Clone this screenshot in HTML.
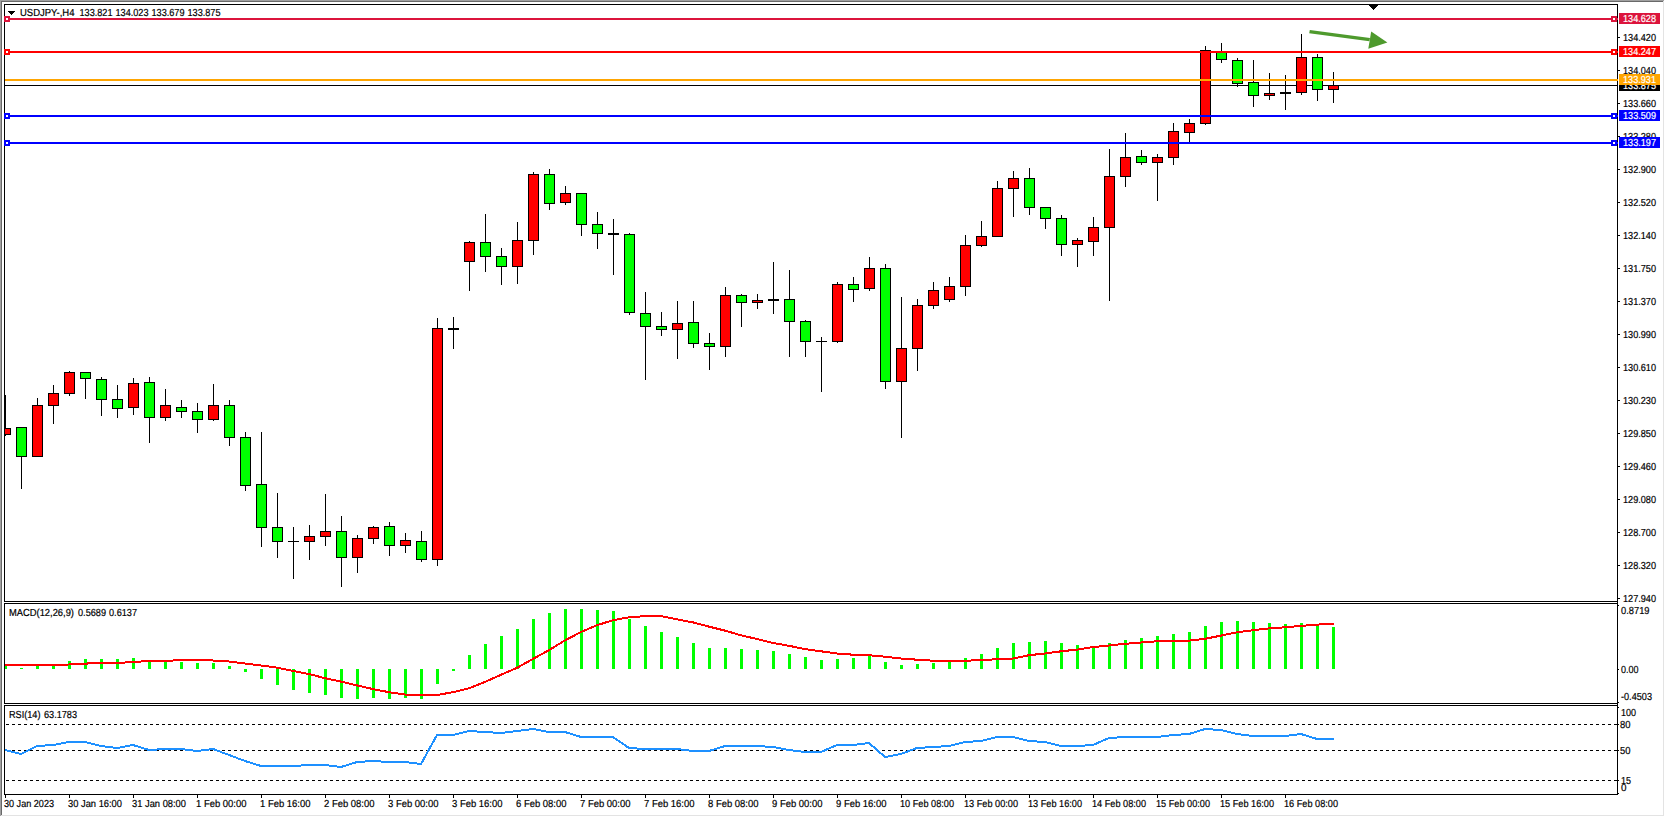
<!DOCTYPE html>
<html lang="en"><head><meta charset="utf-8"><title>USDJPY-,H4</title>
<style>html,body{margin:0;padding:0;background:#fff;overflow:hidden}svg{display:block}text{font-family:"Liberation Sans",sans-serif;font-size:10.2px;fill:#000;stroke:#000;stroke-width:0.2px;text-rendering:geometricPrecision}</style>
</head><body>
<svg width="1665" height="817" viewBox="0 0 1665 817">
<rect x="0" y="0" width="1665" height="817" fill="#fff"/>
<g shape-rendering="crispEdges">
<rect x="0" y="0" width="1665" height="1" fill="#a0a0a0"/>
<rect x="0" y="0" width="1" height="817" fill="#a0a0a0"/>
<rect x="1" y="1" width="1663" height="1" fill="#696969"/>
<rect x="1" y="1" width="1" height="815" fill="#696969"/>
<rect x="1" y="815" width="1663" height="1" fill="#e3e3e3"/>
<rect x="1663" y="1" width="1" height="815" fill="#e3e3e3"/>
<rect x="0" y="816" width="1665" height="1" fill="#fff"/>
<rect x="1664" y="0" width="1" height="817" fill="#fff"/>
<rect x="4" y="4" width="1614" height="1" fill="#000"/>
<rect x="4" y="601" width="1614" height="1" fill="#000"/>
<rect x="4" y="4" width="1" height="598" fill="#000"/>
<rect x="4" y="603" width="1614" height="1" fill="#000"/>
<rect x="4" y="703" width="1614" height="1" fill="#000"/>
<rect x="4" y="603" width="1" height="101" fill="#000"/>
<rect x="4" y="705" width="1614" height="1" fill="#000"/>
<rect x="4" y="794" width="1614" height="1" fill="#000"/>
<rect x="4" y="705" width="1" height="90" fill="#000"/>
<rect x="1617" y="4" width="1" height="791" fill="#000"/>
<rect x="5" y="85" width="1612" height="1" fill="#000"/>
<g id="candles">
<rect x="5" y="395" width="1" height="41" fill="#000"/>
<rect x="5" y="428" width="6" height="7" fill="#000"/>
<rect x="5" y="429" width="5" height="5" fill="#ff0000"/>
<rect x="21" y="427" width="1" height="62" fill="#000"/>
<rect x="16" y="427" width="11" height="30" fill="#000"/>
<rect x="17" y="428" width="9" height="28" fill="#00ff00"/>
<rect x="37" y="398" width="1" height="59" fill="#000"/>
<rect x="32" y="405" width="11" height="52" fill="#000"/>
<rect x="33" y="406" width="9" height="50" fill="#ff0000"/>
<rect x="53" y="385" width="1" height="39" fill="#000"/>
<rect x="48" y="393" width="11" height="13" fill="#000"/>
<rect x="49" y="394" width="9" height="11" fill="#ff0000"/>
<rect x="69" y="371" width="1" height="25" fill="#000"/>
<rect x="64" y="372" width="11" height="22" fill="#000"/>
<rect x="65" y="373" width="9" height="20" fill="#ff0000"/>
<rect x="85" y="372" width="1" height="27" fill="#000"/>
<rect x="80" y="372" width="11" height="7" fill="#000"/>
<rect x="81" y="373" width="9" height="5" fill="#00ff00"/>
<rect x="101" y="377" width="1" height="39" fill="#000"/>
<rect x="96" y="379" width="11" height="21" fill="#000"/>
<rect x="97" y="380" width="9" height="19" fill="#00ff00"/>
<rect x="117" y="385" width="1" height="33" fill="#000"/>
<rect x="112" y="399" width="11" height="10" fill="#000"/>
<rect x="113" y="400" width="9" height="8" fill="#00ff00"/>
<rect x="133" y="378" width="1" height="37" fill="#000"/>
<rect x="128" y="383" width="11" height="25" fill="#000"/>
<rect x="129" y="384" width="9" height="23" fill="#ff0000"/>
<rect x="149" y="377" width="1" height="66" fill="#000"/>
<rect x="144" y="382" width="11" height="36" fill="#000"/>
<rect x="145" y="383" width="9" height="34" fill="#00ff00"/>
<rect x="165" y="389" width="1" height="32" fill="#000"/>
<rect x="160" y="405" width="11" height="13" fill="#000"/>
<rect x="161" y="406" width="9" height="11" fill="#ff0000"/>
<rect x="181" y="400" width="1" height="18" fill="#000"/>
<rect x="176" y="407" width="11" height="5" fill="#000"/>
<rect x="177" y="408" width="9" height="3" fill="#00ff00"/>
<rect x="197" y="403" width="1" height="30" fill="#000"/>
<rect x="192" y="411" width="11" height="9" fill="#000"/>
<rect x="193" y="412" width="9" height="7" fill="#00ff00"/>
<rect x="213" y="384" width="1" height="37" fill="#000"/>
<rect x="208" y="405" width="11" height="15" fill="#000"/>
<rect x="209" y="406" width="9" height="13" fill="#ff0000"/>
<rect x="229" y="400" width="1" height="46" fill="#000"/>
<rect x="224" y="405" width="11" height="33" fill="#000"/>
<rect x="225" y="406" width="9" height="31" fill="#00ff00"/>
<rect x="245" y="432" width="1" height="59" fill="#000"/>
<rect x="240" y="437" width="11" height="49" fill="#000"/>
<rect x="241" y="438" width="9" height="47" fill="#00ff00"/>
<rect x="261" y="432" width="1" height="115" fill="#000"/>
<rect x="256" y="484" width="11" height="44" fill="#000"/>
<rect x="257" y="485" width="9" height="42" fill="#00ff00"/>
<rect x="277" y="493" width="1" height="65" fill="#000"/>
<rect x="272" y="527" width="11" height="15" fill="#000"/>
<rect x="273" y="528" width="9" height="13" fill="#00ff00"/>
<rect x="293" y="527" width="1" height="52" fill="#000"/>
<rect x="288" y="541" width="11" height="1" fill="#000"/>
<rect x="309" y="525" width="1" height="35" fill="#000"/>
<rect x="304" y="536" width="11" height="6" fill="#000"/>
<rect x="305" y="537" width="9" height="4" fill="#ff0000"/>
<rect x="325" y="494" width="1" height="52" fill="#000"/>
<rect x="320" y="531" width="11" height="6" fill="#000"/>
<rect x="321" y="532" width="9" height="4" fill="#ff0000"/>
<rect x="341" y="516" width="1" height="71" fill="#000"/>
<rect x="336" y="531" width="11" height="27" fill="#000"/>
<rect x="337" y="532" width="9" height="25" fill="#00ff00"/>
<rect x="357" y="535" width="1" height="38" fill="#000"/>
<rect x="352" y="538" width="11" height="20" fill="#000"/>
<rect x="353" y="539" width="9" height="18" fill="#ff0000"/>
<rect x="373" y="526" width="1" height="18" fill="#000"/>
<rect x="368" y="527" width="11" height="12" fill="#000"/>
<rect x="369" y="528" width="9" height="10" fill="#ff0000"/>
<rect x="389" y="522" width="1" height="34" fill="#000"/>
<rect x="384" y="526" width="11" height="20" fill="#000"/>
<rect x="385" y="527" width="9" height="18" fill="#00ff00"/>
<rect x="405" y="533" width="1" height="20" fill="#000"/>
<rect x="400" y="540" width="11" height="6" fill="#000"/>
<rect x="401" y="541" width="9" height="4" fill="#ff0000"/>
<rect x="421" y="531" width="1" height="31" fill="#000"/>
<rect x="416" y="541" width="11" height="19" fill="#000"/>
<rect x="417" y="542" width="9" height="17" fill="#00ff00"/>
<rect x="437" y="318" width="1" height="248" fill="#000"/>
<rect x="432" y="328" width="11" height="232" fill="#000"/>
<rect x="433" y="329" width="9" height="230" fill="#ff0000"/>
<rect x="453" y="317" width="1" height="32" fill="#000"/>
<rect x="448" y="328" width="11" height="2" fill="#000"/>
<rect x="469" y="241" width="1" height="50" fill="#000"/>
<rect x="464" y="242" width="11" height="20" fill="#000"/>
<rect x="465" y="243" width="9" height="18" fill="#ff0000"/>
<rect x="485" y="214" width="1" height="58" fill="#000"/>
<rect x="480" y="242" width="11" height="15" fill="#000"/>
<rect x="481" y="243" width="9" height="13" fill="#00ff00"/>
<rect x="501" y="248" width="1" height="37" fill="#000"/>
<rect x="496" y="256" width="11" height="11" fill="#000"/>
<rect x="497" y="257" width="9" height="9" fill="#00ff00"/>
<rect x="517" y="222" width="1" height="62" fill="#000"/>
<rect x="512" y="240" width="11" height="27" fill="#000"/>
<rect x="513" y="241" width="9" height="25" fill="#ff0000"/>
<rect x="533" y="172" width="1" height="83" fill="#000"/>
<rect x="528" y="174" width="11" height="67" fill="#000"/>
<rect x="529" y="175" width="9" height="65" fill="#ff0000"/>
<rect x="549" y="169" width="1" height="41" fill="#000"/>
<rect x="544" y="174" width="11" height="30" fill="#000"/>
<rect x="545" y="175" width="9" height="28" fill="#00ff00"/>
<rect x="565" y="186" width="1" height="19" fill="#000"/>
<rect x="560" y="193" width="11" height="10" fill="#000"/>
<rect x="561" y="194" width="9" height="8" fill="#ff0000"/>
<rect x="581" y="193" width="1" height="43" fill="#000"/>
<rect x="576" y="193" width="11" height="32" fill="#000"/>
<rect x="577" y="194" width="9" height="30" fill="#00ff00"/>
<rect x="597" y="212" width="1" height="37" fill="#000"/>
<rect x="592" y="224" width="11" height="10" fill="#000"/>
<rect x="593" y="225" width="9" height="8" fill="#00ff00"/>
<rect x="613" y="219" width="1" height="56" fill="#000"/>
<rect x="608" y="233" width="11" height="2" fill="#000"/>
<rect x="629" y="233" width="1" height="82" fill="#000"/>
<rect x="624" y="234" width="11" height="79" fill="#000"/>
<rect x="625" y="235" width="9" height="77" fill="#00ff00"/>
<rect x="645" y="292" width="1" height="88" fill="#000"/>
<rect x="640" y="313" width="11" height="14" fill="#000"/>
<rect x="641" y="314" width="9" height="12" fill="#00ff00"/>
<rect x="661" y="312" width="1" height="24" fill="#000"/>
<rect x="656" y="326" width="11" height="4" fill="#000"/>
<rect x="657" y="327" width="9" height="2" fill="#00ff00"/>
<rect x="677" y="301" width="1" height="58" fill="#000"/>
<rect x="672" y="323" width="11" height="7" fill="#000"/>
<rect x="673" y="324" width="9" height="5" fill="#ff0000"/>
<rect x="693" y="301" width="1" height="47" fill="#000"/>
<rect x="688" y="322" width="11" height="22" fill="#000"/>
<rect x="689" y="323" width="9" height="20" fill="#00ff00"/>
<rect x="709" y="333" width="1" height="37" fill="#000"/>
<rect x="704" y="343" width="11" height="4" fill="#000"/>
<rect x="705" y="344" width="9" height="2" fill="#00ff00"/>
<rect x="725" y="287" width="1" height="70" fill="#000"/>
<rect x="720" y="295" width="11" height="52" fill="#000"/>
<rect x="721" y="296" width="9" height="50" fill="#ff0000"/>
<rect x="741" y="294" width="1" height="33" fill="#000"/>
<rect x="736" y="295" width="11" height="8" fill="#000"/>
<rect x="737" y="296" width="9" height="6" fill="#00ff00"/>
<rect x="757" y="294" width="1" height="15" fill="#000"/>
<rect x="752" y="300" width="11" height="3" fill="#000"/>
<rect x="753" y="301" width="9" height="1" fill="#ff0000"/>
<rect x="773" y="262" width="1" height="52" fill="#000"/>
<rect x="768" y="299" width="11" height="2" fill="#000"/>
<rect x="789" y="270" width="1" height="87" fill="#000"/>
<rect x="784" y="299" width="11" height="23" fill="#000"/>
<rect x="785" y="300" width="9" height="21" fill="#00ff00"/>
<rect x="805" y="320" width="1" height="37" fill="#000"/>
<rect x="800" y="321" width="11" height="21" fill="#000"/>
<rect x="801" y="322" width="9" height="19" fill="#00ff00"/>
<rect x="821" y="337" width="1" height="55" fill="#000"/>
<rect x="816" y="341" width="11" height="1" fill="#000"/>
<rect x="837" y="282" width="1" height="61" fill="#000"/>
<rect x="832" y="284" width="11" height="58" fill="#000"/>
<rect x="833" y="285" width="9" height="56" fill="#ff0000"/>
<rect x="853" y="277" width="1" height="25" fill="#000"/>
<rect x="848" y="284" width="11" height="6" fill="#000"/>
<rect x="849" y="285" width="9" height="4" fill="#00ff00"/>
<rect x="869" y="257" width="1" height="34" fill="#000"/>
<rect x="864" y="268" width="11" height="21" fill="#000"/>
<rect x="865" y="269" width="9" height="19" fill="#ff0000"/>
<rect x="885" y="264" width="1" height="125" fill="#000"/>
<rect x="880" y="268" width="11" height="114" fill="#000"/>
<rect x="881" y="269" width="9" height="112" fill="#00ff00"/>
<rect x="901" y="297" width="1" height="141" fill="#000"/>
<rect x="896" y="348" width="11" height="34" fill="#000"/>
<rect x="897" y="349" width="9" height="32" fill="#ff0000"/>
<rect x="917" y="299" width="1" height="72" fill="#000"/>
<rect x="912" y="305" width="11" height="44" fill="#000"/>
<rect x="913" y="306" width="9" height="42" fill="#ff0000"/>
<rect x="933" y="282" width="1" height="27" fill="#000"/>
<rect x="928" y="290" width="11" height="16" fill="#000"/>
<rect x="929" y="291" width="9" height="14" fill="#ff0000"/>
<rect x="949" y="277" width="1" height="25" fill="#000"/>
<rect x="944" y="286" width="11" height="14" fill="#000"/>
<rect x="945" y="287" width="9" height="12" fill="#ff0000"/>
<rect x="965" y="235" width="1" height="61" fill="#000"/>
<rect x="960" y="245" width="11" height="42" fill="#000"/>
<rect x="961" y="246" width="9" height="40" fill="#ff0000"/>
<rect x="981" y="221" width="1" height="26" fill="#000"/>
<rect x="976" y="236" width="11" height="10" fill="#000"/>
<rect x="977" y="237" width="9" height="8" fill="#ff0000"/>
<rect x="997" y="181" width="1" height="56" fill="#000"/>
<rect x="992" y="188" width="11" height="49" fill="#000"/>
<rect x="993" y="189" width="9" height="47" fill="#ff0000"/>
<rect x="1013" y="171" width="1" height="46" fill="#000"/>
<rect x="1008" y="178" width="11" height="11" fill="#000"/>
<rect x="1009" y="179" width="9" height="9" fill="#ff0000"/>
<rect x="1029" y="168" width="1" height="47" fill="#000"/>
<rect x="1024" y="178" width="11" height="30" fill="#000"/>
<rect x="1025" y="179" width="9" height="28" fill="#00ff00"/>
<rect x="1045" y="207" width="1" height="22" fill="#000"/>
<rect x="1040" y="207" width="11" height="12" fill="#000"/>
<rect x="1041" y="208" width="9" height="10" fill="#00ff00"/>
<rect x="1061" y="215" width="1" height="41" fill="#000"/>
<rect x="1056" y="218" width="11" height="27" fill="#000"/>
<rect x="1057" y="219" width="9" height="25" fill="#00ff00"/>
<rect x="1077" y="238" width="1" height="29" fill="#000"/>
<rect x="1072" y="240" width="11" height="5" fill="#000"/>
<rect x="1073" y="241" width="9" height="3" fill="#ff0000"/>
<rect x="1093" y="217" width="1" height="39" fill="#000"/>
<rect x="1088" y="227" width="11" height="15" fill="#000"/>
<rect x="1089" y="228" width="9" height="13" fill="#ff0000"/>
<rect x="1109" y="149" width="1" height="152" fill="#000"/>
<rect x="1104" y="176" width="11" height="52" fill="#000"/>
<rect x="1105" y="177" width="9" height="50" fill="#ff0000"/>
<rect x="1125" y="133" width="1" height="54" fill="#000"/>
<rect x="1120" y="157" width="11" height="20" fill="#000"/>
<rect x="1121" y="158" width="9" height="18" fill="#ff0000"/>
<rect x="1141" y="150" width="1" height="15" fill="#000"/>
<rect x="1136" y="156" width="11" height="7" fill="#000"/>
<rect x="1137" y="157" width="9" height="5" fill="#00ff00"/>
<rect x="1157" y="154" width="1" height="47" fill="#000"/>
<rect x="1152" y="157" width="11" height="6" fill="#000"/>
<rect x="1153" y="158" width="9" height="4" fill="#ff0000"/>
<rect x="1173" y="123" width="1" height="42" fill="#000"/>
<rect x="1168" y="131" width="11" height="27" fill="#000"/>
<rect x="1169" y="132" width="9" height="25" fill="#ff0000"/>
<rect x="1189" y="119" width="1" height="23" fill="#000"/>
<rect x="1184" y="123" width="11" height="10" fill="#000"/>
<rect x="1185" y="124" width="9" height="8" fill="#ff0000"/>
<rect x="1205" y="46" width="1" height="79" fill="#000"/>
<rect x="1200" y="50" width="11" height="74" fill="#000"/>
<rect x="1201" y="51" width="9" height="72" fill="#ff0000"/>
<rect x="1221" y="43" width="1" height="20" fill="#000"/>
<rect x="1216" y="52" width="11" height="8" fill="#000"/>
<rect x="1217" y="53" width="9" height="6" fill="#00ff00"/>
<rect x="1237" y="58" width="1" height="29" fill="#000"/>
<rect x="1232" y="60" width="11" height="24" fill="#000"/>
<rect x="1233" y="61" width="9" height="22" fill="#00ff00"/>
<rect x="1253" y="60" width="1" height="47" fill="#000"/>
<rect x="1248" y="82" width="11" height="14" fill="#000"/>
<rect x="1249" y="83" width="9" height="12" fill="#00ff00"/>
<rect x="1269" y="73" width="1" height="27" fill="#000"/>
<rect x="1264" y="93" width="11" height="3" fill="#000"/>
<rect x="1265" y="94" width="9" height="1" fill="#ff0000"/>
<rect x="1285" y="75" width="1" height="35" fill="#000"/>
<rect x="1280" y="92" width="11" height="2" fill="#000"/>
<rect x="1301" y="34" width="1" height="61" fill="#000"/>
<rect x="1296" y="57" width="11" height="36" fill="#000"/>
<rect x="1297" y="58" width="9" height="34" fill="#ff0000"/>
<rect x="1317" y="54" width="1" height="47" fill="#000"/>
<rect x="1312" y="57" width="11" height="33" fill="#000"/>
<rect x="1313" y="58" width="9" height="31" fill="#00ff00"/>
<rect x="1333" y="72" width="1" height="31" fill="#000"/>
<rect x="1328" y="85" width="11" height="5" fill="#000"/>
<rect x="1329" y="86" width="9" height="3" fill="#ff0000"/>
</g>
<rect x="5" y="18" width="1613" height="2" fill="#dc143c"/>
<rect x="5" y="51" width="1613" height="2" fill="#ff0000"/>
<rect x="5" y="79" width="1613" height="2" fill="#ffa500"/>
<rect x="5" y="115" width="1613" height="2" fill="#0000ff"/>
<rect x="5" y="142" width="1613" height="2" fill="#0000ff"/>
<rect x="4" y="16" width="6" height="6" fill="#dc143c"/>
<rect x="6" y="18" width="2" height="2" fill="#fff"/>
<rect x="1611" y="16" width="6" height="6" fill="#dc143c"/>
<rect x="1613" y="18" width="2" height="2" fill="#fff"/>
<rect x="4" y="49" width="6" height="6" fill="#ff0000"/>
<rect x="6" y="51" width="2" height="2" fill="#fff"/>
<rect x="1611" y="49" width="6" height="6" fill="#ff0000"/>
<rect x="1613" y="51" width="2" height="2" fill="#fff"/>
<rect x="4" y="113" width="6" height="6" fill="#0000ff"/>
<rect x="6" y="115" width="2" height="2" fill="#fff"/>
<rect x="1611" y="113" width="6" height="6" fill="#0000ff"/>
<rect x="1613" y="115" width="2" height="2" fill="#fff"/>
<rect x="4" y="140" width="6" height="6" fill="#0000ff"/>
<rect x="6" y="142" width="2" height="2" fill="#fff"/>
<rect x="1611" y="140" width="6" height="6" fill="#0000ff"/>
<rect x="1613" y="142" width="2" height="2" fill="#fff"/>
<rect x="1369" y="5" width="9" height="1" fill="#000"/>
<rect x="1370" y="6" width="7" height="1" fill="#000"/>
<rect x="1371" y="7" width="5" height="1" fill="#000"/>
<rect x="1372" y="8" width="3" height="1" fill="#000"/>
<rect x="1373" y="9" width="1" height="1" fill="#000"/>
<rect x="8" y="11" width="7" height="1" fill="#000"/>
<rect x="9" y="12" width="5" height="1" fill="#000"/>
<rect x="10" y="13" width="3" height="1" fill="#000"/>
<rect x="11" y="14" width="1" height="1" fill="#000"/>
<g id="macd">
<rect x="5" y="665" width="2" height="4" fill="#00ff00"/>
<rect x="20" y="668" width="3" height="1" fill="#00ff00"/>
<rect x="36" y="665" width="3" height="4" fill="#00ff00"/>
<rect x="52" y="665" width="3" height="4" fill="#00ff00"/>
<rect x="68" y="661" width="3" height="8" fill="#00ff00"/>
<rect x="84" y="659" width="3" height="10" fill="#00ff00"/>
<rect x="100" y="659" width="3" height="10" fill="#00ff00"/>
<rect x="116" y="659" width="3" height="10" fill="#00ff00"/>
<rect x="132" y="658" width="3" height="11" fill="#00ff00"/>
<rect x="148" y="660" width="3" height="9" fill="#00ff00"/>
<rect x="164" y="661" width="3" height="8" fill="#00ff00"/>
<rect x="180" y="662" width="3" height="7" fill="#00ff00"/>
<rect x="196" y="663" width="3" height="6" fill="#00ff00"/>
<rect x="212" y="663" width="3" height="6" fill="#00ff00"/>
<rect x="228" y="666" width="3" height="3" fill="#00ff00"/>
<rect x="244" y="669" width="3" height="3" fill="#00ff00"/>
<rect x="260" y="669" width="3" height="10" fill="#00ff00"/>
<rect x="276" y="669" width="3" height="16" fill="#00ff00"/>
<rect x="292" y="669" width="3" height="21" fill="#00ff00"/>
<rect x="308" y="669" width="3" height="24" fill="#00ff00"/>
<rect x="324" y="669" width="3" height="26" fill="#00ff00"/>
<rect x="340" y="669" width="3" height="29" fill="#00ff00"/>
<rect x="356" y="669" width="3" height="30" fill="#00ff00"/>
<rect x="372" y="669" width="3" height="29" fill="#00ff00"/>
<rect x="388" y="669" width="3" height="30" fill="#00ff00"/>
<rect x="404" y="669" width="3" height="29" fill="#00ff00"/>
<rect x="420" y="669" width="3" height="30" fill="#00ff00"/>
<rect x="436" y="669" width="3" height="15" fill="#00ff00"/>
<rect x="452" y="669" width="3" height="2" fill="#00ff00"/>
<rect x="468" y="655" width="3" height="14" fill="#00ff00"/>
<rect x="484" y="644" width="3" height="25" fill="#00ff00"/>
<rect x="500" y="636" width="3" height="33" fill="#00ff00"/>
<rect x="516" y="629" width="3" height="40" fill="#00ff00"/>
<rect x="532" y="619" width="3" height="50" fill="#00ff00"/>
<rect x="548" y="613" width="3" height="56" fill="#00ff00"/>
<rect x="564" y="609" width="3" height="60" fill="#00ff00"/>
<rect x="580" y="609" width="3" height="60" fill="#00ff00"/>
<rect x="596" y="610" width="3" height="59" fill="#00ff00"/>
<rect x="612" y="611" width="3" height="58" fill="#00ff00"/>
<rect x="628" y="619" width="3" height="50" fill="#00ff00"/>
<rect x="644" y="626" width="3" height="43" fill="#00ff00"/>
<rect x="660" y="632" width="3" height="37" fill="#00ff00"/>
<rect x="676" y="637" width="3" height="32" fill="#00ff00"/>
<rect x="692" y="643" width="3" height="26" fill="#00ff00"/>
<rect x="708" y="648" width="3" height="21" fill="#00ff00"/>
<rect x="724" y="648" width="3" height="21" fill="#00ff00"/>
<rect x="740" y="649" width="3" height="20" fill="#00ff00"/>
<rect x="756" y="650" width="3" height="19" fill="#00ff00"/>
<rect x="772" y="651" width="3" height="18" fill="#00ff00"/>
<rect x="788" y="654" width="3" height="15" fill="#00ff00"/>
<rect x="804" y="657" width="3" height="12" fill="#00ff00"/>
<rect x="820" y="660" width="3" height="9" fill="#00ff00"/>
<rect x="836" y="659" width="3" height="10" fill="#00ff00"/>
<rect x="852" y="658" width="3" height="11" fill="#00ff00"/>
<rect x="868" y="656" width="3" height="13" fill="#00ff00"/>
<rect x="884" y="662" width="3" height="7" fill="#00ff00"/>
<rect x="900" y="665" width="3" height="4" fill="#00ff00"/>
<rect x="916" y="664" width="3" height="5" fill="#00ff00"/>
<rect x="932" y="663" width="3" height="6" fill="#00ff00"/>
<rect x="948" y="661" width="3" height="8" fill="#00ff00"/>
<rect x="964" y="658" width="3" height="11" fill="#00ff00"/>
<rect x="980" y="654" width="3" height="15" fill="#00ff00"/>
<rect x="996" y="648" width="3" height="21" fill="#00ff00"/>
<rect x="1012" y="643" width="3" height="26" fill="#00ff00"/>
<rect x="1028" y="642" width="3" height="27" fill="#00ff00"/>
<rect x="1044" y="641" width="3" height="28" fill="#00ff00"/>
<rect x="1060" y="643" width="3" height="26" fill="#00ff00"/>
<rect x="1076" y="645" width="3" height="24" fill="#00ff00"/>
<rect x="1092" y="647" width="3" height="22" fill="#00ff00"/>
<rect x="1108" y="643" width="3" height="26" fill="#00ff00"/>
<rect x="1124" y="640" width="3" height="29" fill="#00ff00"/>
<rect x="1140" y="638" width="3" height="31" fill="#00ff00"/>
<rect x="1156" y="636" width="3" height="33" fill="#00ff00"/>
<rect x="1172" y="634" width="3" height="35" fill="#00ff00"/>
<rect x="1188" y="632" width="3" height="37" fill="#00ff00"/>
<rect x="1204" y="626" width="3" height="43" fill="#00ff00"/>
<rect x="1220" y="622" width="3" height="47" fill="#00ff00"/>
<rect x="1236" y="621" width="3" height="48" fill="#00ff00"/>
<rect x="1252" y="622" width="3" height="47" fill="#00ff00"/>
<rect x="1268" y="623" width="3" height="46" fill="#00ff00"/>
<rect x="1284" y="624" width="3" height="45" fill="#00ff00"/>
<rect x="1300" y="623" width="3" height="46" fill="#00ff00"/>
<rect x="1316" y="625" width="3" height="44" fill="#00ff00"/>
<rect x="1332" y="627" width="3" height="42" fill="#00ff00"/>
</g>
<rect x="6" y="724" width="3" height="1" fill="#000"/>
<rect x="12" y="724" width="3" height="1" fill="#000"/>
<rect x="18" y="724" width="3" height="1" fill="#000"/>
<rect x="24" y="724" width="3" height="1" fill="#000"/>
<rect x="30" y="724" width="3" height="1" fill="#000"/>
<rect x="36" y="724" width="3" height="1" fill="#000"/>
<rect x="42" y="724" width="3" height="1" fill="#000"/>
<rect x="48" y="724" width="3" height="1" fill="#000"/>
<rect x="54" y="724" width="3" height="1" fill="#000"/>
<rect x="60" y="724" width="3" height="1" fill="#000"/>
<rect x="66" y="724" width="3" height="1" fill="#000"/>
<rect x="72" y="724" width="3" height="1" fill="#000"/>
<rect x="78" y="724" width="3" height="1" fill="#000"/>
<rect x="84" y="724" width="3" height="1" fill="#000"/>
<rect x="90" y="724" width="3" height="1" fill="#000"/>
<rect x="96" y="724" width="3" height="1" fill="#000"/>
<rect x="102" y="724" width="3" height="1" fill="#000"/>
<rect x="108" y="724" width="3" height="1" fill="#000"/>
<rect x="114" y="724" width="3" height="1" fill="#000"/>
<rect x="120" y="724" width="3" height="1" fill="#000"/>
<rect x="126" y="724" width="3" height="1" fill="#000"/>
<rect x="132" y="724" width="3" height="1" fill="#000"/>
<rect x="138" y="724" width="3" height="1" fill="#000"/>
<rect x="144" y="724" width="3" height="1" fill="#000"/>
<rect x="150" y="724" width="3" height="1" fill="#000"/>
<rect x="156" y="724" width="3" height="1" fill="#000"/>
<rect x="162" y="724" width="3" height="1" fill="#000"/>
<rect x="168" y="724" width="3" height="1" fill="#000"/>
<rect x="174" y="724" width="3" height="1" fill="#000"/>
<rect x="180" y="724" width="3" height="1" fill="#000"/>
<rect x="186" y="724" width="3" height="1" fill="#000"/>
<rect x="192" y="724" width="3" height="1" fill="#000"/>
<rect x="198" y="724" width="3" height="1" fill="#000"/>
<rect x="204" y="724" width="3" height="1" fill="#000"/>
<rect x="210" y="724" width="3" height="1" fill="#000"/>
<rect x="216" y="724" width="3" height="1" fill="#000"/>
<rect x="222" y="724" width="3" height="1" fill="#000"/>
<rect x="228" y="724" width="3" height="1" fill="#000"/>
<rect x="234" y="724" width="3" height="1" fill="#000"/>
<rect x="240" y="724" width="3" height="1" fill="#000"/>
<rect x="246" y="724" width="3" height="1" fill="#000"/>
<rect x="252" y="724" width="3" height="1" fill="#000"/>
<rect x="258" y="724" width="3" height="1" fill="#000"/>
<rect x="264" y="724" width="3" height="1" fill="#000"/>
<rect x="270" y="724" width="3" height="1" fill="#000"/>
<rect x="276" y="724" width="3" height="1" fill="#000"/>
<rect x="282" y="724" width="3" height="1" fill="#000"/>
<rect x="288" y="724" width="3" height="1" fill="#000"/>
<rect x="294" y="724" width="3" height="1" fill="#000"/>
<rect x="300" y="724" width="3" height="1" fill="#000"/>
<rect x="306" y="724" width="3" height="1" fill="#000"/>
<rect x="312" y="724" width="3" height="1" fill="#000"/>
<rect x="318" y="724" width="3" height="1" fill="#000"/>
<rect x="324" y="724" width="3" height="1" fill="#000"/>
<rect x="330" y="724" width="3" height="1" fill="#000"/>
<rect x="336" y="724" width="3" height="1" fill="#000"/>
<rect x="342" y="724" width="3" height="1" fill="#000"/>
<rect x="348" y="724" width="3" height="1" fill="#000"/>
<rect x="354" y="724" width="3" height="1" fill="#000"/>
<rect x="360" y="724" width="3" height="1" fill="#000"/>
<rect x="366" y="724" width="3" height="1" fill="#000"/>
<rect x="372" y="724" width="3" height="1" fill="#000"/>
<rect x="378" y="724" width="3" height="1" fill="#000"/>
<rect x="384" y="724" width="3" height="1" fill="#000"/>
<rect x="390" y="724" width="3" height="1" fill="#000"/>
<rect x="396" y="724" width="3" height="1" fill="#000"/>
<rect x="402" y="724" width="3" height="1" fill="#000"/>
<rect x="408" y="724" width="3" height="1" fill="#000"/>
<rect x="414" y="724" width="3" height="1" fill="#000"/>
<rect x="420" y="724" width="3" height="1" fill="#000"/>
<rect x="426" y="724" width="3" height="1" fill="#000"/>
<rect x="432" y="724" width="3" height="1" fill="#000"/>
<rect x="438" y="724" width="3" height="1" fill="#000"/>
<rect x="444" y="724" width="3" height="1" fill="#000"/>
<rect x="450" y="724" width="3" height="1" fill="#000"/>
<rect x="456" y="724" width="3" height="1" fill="#000"/>
<rect x="462" y="724" width="3" height="1" fill="#000"/>
<rect x="468" y="724" width="3" height="1" fill="#000"/>
<rect x="474" y="724" width="3" height="1" fill="#000"/>
<rect x="480" y="724" width="3" height="1" fill="#000"/>
<rect x="486" y="724" width="3" height="1" fill="#000"/>
<rect x="492" y="724" width="3" height="1" fill="#000"/>
<rect x="498" y="724" width="3" height="1" fill="#000"/>
<rect x="504" y="724" width="3" height="1" fill="#000"/>
<rect x="510" y="724" width="3" height="1" fill="#000"/>
<rect x="516" y="724" width="3" height="1" fill="#000"/>
<rect x="522" y="724" width="3" height="1" fill="#000"/>
<rect x="528" y="724" width="3" height="1" fill="#000"/>
<rect x="534" y="724" width="3" height="1" fill="#000"/>
<rect x="540" y="724" width="3" height="1" fill="#000"/>
<rect x="546" y="724" width="3" height="1" fill="#000"/>
<rect x="552" y="724" width="3" height="1" fill="#000"/>
<rect x="558" y="724" width="3" height="1" fill="#000"/>
<rect x="564" y="724" width="3" height="1" fill="#000"/>
<rect x="570" y="724" width="3" height="1" fill="#000"/>
<rect x="576" y="724" width="3" height="1" fill="#000"/>
<rect x="582" y="724" width="3" height="1" fill="#000"/>
<rect x="588" y="724" width="3" height="1" fill="#000"/>
<rect x="594" y="724" width="3" height="1" fill="#000"/>
<rect x="600" y="724" width="3" height="1" fill="#000"/>
<rect x="606" y="724" width="3" height="1" fill="#000"/>
<rect x="612" y="724" width="3" height="1" fill="#000"/>
<rect x="618" y="724" width="3" height="1" fill="#000"/>
<rect x="624" y="724" width="3" height="1" fill="#000"/>
<rect x="630" y="724" width="3" height="1" fill="#000"/>
<rect x="636" y="724" width="3" height="1" fill="#000"/>
<rect x="642" y="724" width="3" height="1" fill="#000"/>
<rect x="648" y="724" width="3" height="1" fill="#000"/>
<rect x="654" y="724" width="3" height="1" fill="#000"/>
<rect x="660" y="724" width="3" height="1" fill="#000"/>
<rect x="666" y="724" width="3" height="1" fill="#000"/>
<rect x="672" y="724" width="3" height="1" fill="#000"/>
<rect x="678" y="724" width="3" height="1" fill="#000"/>
<rect x="684" y="724" width="3" height="1" fill="#000"/>
<rect x="690" y="724" width="3" height="1" fill="#000"/>
<rect x="696" y="724" width="3" height="1" fill="#000"/>
<rect x="702" y="724" width="3" height="1" fill="#000"/>
<rect x="708" y="724" width="3" height="1" fill="#000"/>
<rect x="714" y="724" width="3" height="1" fill="#000"/>
<rect x="720" y="724" width="3" height="1" fill="#000"/>
<rect x="726" y="724" width="3" height="1" fill="#000"/>
<rect x="732" y="724" width="3" height="1" fill="#000"/>
<rect x="738" y="724" width="3" height="1" fill="#000"/>
<rect x="744" y="724" width="3" height="1" fill="#000"/>
<rect x="750" y="724" width="3" height="1" fill="#000"/>
<rect x="756" y="724" width="3" height="1" fill="#000"/>
<rect x="762" y="724" width="3" height="1" fill="#000"/>
<rect x="768" y="724" width="3" height="1" fill="#000"/>
<rect x="774" y="724" width="3" height="1" fill="#000"/>
<rect x="780" y="724" width="3" height="1" fill="#000"/>
<rect x="786" y="724" width="3" height="1" fill="#000"/>
<rect x="792" y="724" width="3" height="1" fill="#000"/>
<rect x="798" y="724" width="3" height="1" fill="#000"/>
<rect x="804" y="724" width="3" height="1" fill="#000"/>
<rect x="810" y="724" width="3" height="1" fill="#000"/>
<rect x="816" y="724" width="3" height="1" fill="#000"/>
<rect x="822" y="724" width="3" height="1" fill="#000"/>
<rect x="828" y="724" width="3" height="1" fill="#000"/>
<rect x="834" y="724" width="3" height="1" fill="#000"/>
<rect x="840" y="724" width="3" height="1" fill="#000"/>
<rect x="846" y="724" width="3" height="1" fill="#000"/>
<rect x="852" y="724" width="3" height="1" fill="#000"/>
<rect x="858" y="724" width="3" height="1" fill="#000"/>
<rect x="864" y="724" width="3" height="1" fill="#000"/>
<rect x="870" y="724" width="3" height="1" fill="#000"/>
<rect x="876" y="724" width="3" height="1" fill="#000"/>
<rect x="882" y="724" width="3" height="1" fill="#000"/>
<rect x="888" y="724" width="3" height="1" fill="#000"/>
<rect x="894" y="724" width="3" height="1" fill="#000"/>
<rect x="900" y="724" width="3" height="1" fill="#000"/>
<rect x="906" y="724" width="3" height="1" fill="#000"/>
<rect x="912" y="724" width="3" height="1" fill="#000"/>
<rect x="918" y="724" width="3" height="1" fill="#000"/>
<rect x="924" y="724" width="3" height="1" fill="#000"/>
<rect x="930" y="724" width="3" height="1" fill="#000"/>
<rect x="936" y="724" width="3" height="1" fill="#000"/>
<rect x="942" y="724" width="3" height="1" fill="#000"/>
<rect x="948" y="724" width="3" height="1" fill="#000"/>
<rect x="954" y="724" width="3" height="1" fill="#000"/>
<rect x="960" y="724" width="3" height="1" fill="#000"/>
<rect x="966" y="724" width="3" height="1" fill="#000"/>
<rect x="972" y="724" width="3" height="1" fill="#000"/>
<rect x="978" y="724" width="3" height="1" fill="#000"/>
<rect x="984" y="724" width="3" height="1" fill="#000"/>
<rect x="990" y="724" width="3" height="1" fill="#000"/>
<rect x="996" y="724" width="3" height="1" fill="#000"/>
<rect x="1002" y="724" width="3" height="1" fill="#000"/>
<rect x="1008" y="724" width="3" height="1" fill="#000"/>
<rect x="1014" y="724" width="3" height="1" fill="#000"/>
<rect x="1020" y="724" width="3" height="1" fill="#000"/>
<rect x="1026" y="724" width="3" height="1" fill="#000"/>
<rect x="1032" y="724" width="3" height="1" fill="#000"/>
<rect x="1038" y="724" width="3" height="1" fill="#000"/>
<rect x="1044" y="724" width="3" height="1" fill="#000"/>
<rect x="1050" y="724" width="3" height="1" fill="#000"/>
<rect x="1056" y="724" width="3" height="1" fill="#000"/>
<rect x="1062" y="724" width="3" height="1" fill="#000"/>
<rect x="1068" y="724" width="3" height="1" fill="#000"/>
<rect x="1074" y="724" width="3" height="1" fill="#000"/>
<rect x="1080" y="724" width="3" height="1" fill="#000"/>
<rect x="1086" y="724" width="3" height="1" fill="#000"/>
<rect x="1092" y="724" width="3" height="1" fill="#000"/>
<rect x="1098" y="724" width="3" height="1" fill="#000"/>
<rect x="1104" y="724" width="3" height="1" fill="#000"/>
<rect x="1110" y="724" width="3" height="1" fill="#000"/>
<rect x="1116" y="724" width="3" height="1" fill="#000"/>
<rect x="1122" y="724" width="3" height="1" fill="#000"/>
<rect x="1128" y="724" width="3" height="1" fill="#000"/>
<rect x="1134" y="724" width="3" height="1" fill="#000"/>
<rect x="1140" y="724" width="3" height="1" fill="#000"/>
<rect x="1146" y="724" width="3" height="1" fill="#000"/>
<rect x="1152" y="724" width="3" height="1" fill="#000"/>
<rect x="1158" y="724" width="3" height="1" fill="#000"/>
<rect x="1164" y="724" width="3" height="1" fill="#000"/>
<rect x="1170" y="724" width="3" height="1" fill="#000"/>
<rect x="1176" y="724" width="3" height="1" fill="#000"/>
<rect x="1182" y="724" width="3" height="1" fill="#000"/>
<rect x="1188" y="724" width="3" height="1" fill="#000"/>
<rect x="1194" y="724" width="3" height="1" fill="#000"/>
<rect x="1200" y="724" width="3" height="1" fill="#000"/>
<rect x="1206" y="724" width="3" height="1" fill="#000"/>
<rect x="1212" y="724" width="3" height="1" fill="#000"/>
<rect x="1218" y="724" width="3" height="1" fill="#000"/>
<rect x="1224" y="724" width="3" height="1" fill="#000"/>
<rect x="1230" y="724" width="3" height="1" fill="#000"/>
<rect x="1236" y="724" width="3" height="1" fill="#000"/>
<rect x="1242" y="724" width="3" height="1" fill="#000"/>
<rect x="1248" y="724" width="3" height="1" fill="#000"/>
<rect x="1254" y="724" width="3" height="1" fill="#000"/>
<rect x="1260" y="724" width="3" height="1" fill="#000"/>
<rect x="1266" y="724" width="3" height="1" fill="#000"/>
<rect x="1272" y="724" width="3" height="1" fill="#000"/>
<rect x="1278" y="724" width="3" height="1" fill="#000"/>
<rect x="1284" y="724" width="3" height="1" fill="#000"/>
<rect x="1290" y="724" width="3" height="1" fill="#000"/>
<rect x="1296" y="724" width="3" height="1" fill="#000"/>
<rect x="1302" y="724" width="3" height="1" fill="#000"/>
<rect x="1308" y="724" width="3" height="1" fill="#000"/>
<rect x="1314" y="724" width="3" height="1" fill="#000"/>
<rect x="1320" y="724" width="3" height="1" fill="#000"/>
<rect x="1326" y="724" width="3" height="1" fill="#000"/>
<rect x="1332" y="724" width="3" height="1" fill="#000"/>
<rect x="1338" y="724" width="3" height="1" fill="#000"/>
<rect x="1344" y="724" width="3" height="1" fill="#000"/>
<rect x="1350" y="724" width="3" height="1" fill="#000"/>
<rect x="1356" y="724" width="3" height="1" fill="#000"/>
<rect x="1362" y="724" width="3" height="1" fill="#000"/>
<rect x="1368" y="724" width="3" height="1" fill="#000"/>
<rect x="1374" y="724" width="3" height="1" fill="#000"/>
<rect x="1380" y="724" width="3" height="1" fill="#000"/>
<rect x="1386" y="724" width="3" height="1" fill="#000"/>
<rect x="1392" y="724" width="3" height="1" fill="#000"/>
<rect x="1398" y="724" width="3" height="1" fill="#000"/>
<rect x="1404" y="724" width="3" height="1" fill="#000"/>
<rect x="1410" y="724" width="3" height="1" fill="#000"/>
<rect x="1416" y="724" width="3" height="1" fill="#000"/>
<rect x="1422" y="724" width="3" height="1" fill="#000"/>
<rect x="1428" y="724" width="3" height="1" fill="#000"/>
<rect x="1434" y="724" width="3" height="1" fill="#000"/>
<rect x="1440" y="724" width="3" height="1" fill="#000"/>
<rect x="1446" y="724" width="3" height="1" fill="#000"/>
<rect x="1452" y="724" width="3" height="1" fill="#000"/>
<rect x="1458" y="724" width="3" height="1" fill="#000"/>
<rect x="1464" y="724" width="3" height="1" fill="#000"/>
<rect x="1470" y="724" width="3" height="1" fill="#000"/>
<rect x="1476" y="724" width="3" height="1" fill="#000"/>
<rect x="1482" y="724" width="3" height="1" fill="#000"/>
<rect x="1488" y="724" width="3" height="1" fill="#000"/>
<rect x="1494" y="724" width="3" height="1" fill="#000"/>
<rect x="1500" y="724" width="3" height="1" fill="#000"/>
<rect x="1506" y="724" width="3" height="1" fill="#000"/>
<rect x="1512" y="724" width="3" height="1" fill="#000"/>
<rect x="1518" y="724" width="3" height="1" fill="#000"/>
<rect x="1524" y="724" width="3" height="1" fill="#000"/>
<rect x="1530" y="724" width="3" height="1" fill="#000"/>
<rect x="1536" y="724" width="3" height="1" fill="#000"/>
<rect x="1542" y="724" width="3" height="1" fill="#000"/>
<rect x="1548" y="724" width="3" height="1" fill="#000"/>
<rect x="1554" y="724" width="3" height="1" fill="#000"/>
<rect x="1560" y="724" width="3" height="1" fill="#000"/>
<rect x="1566" y="724" width="3" height="1" fill="#000"/>
<rect x="1572" y="724" width="3" height="1" fill="#000"/>
<rect x="1578" y="724" width="3" height="1" fill="#000"/>
<rect x="1584" y="724" width="3" height="1" fill="#000"/>
<rect x="1590" y="724" width="3" height="1" fill="#000"/>
<rect x="1596" y="724" width="3" height="1" fill="#000"/>
<rect x="1602" y="724" width="3" height="1" fill="#000"/>
<rect x="1608" y="724" width="3" height="1" fill="#000"/>
<rect x="1614" y="724" width="3" height="1" fill="#000"/>
<rect x="6" y="750" width="3" height="1" fill="#000"/>
<rect x="12" y="750" width="3" height="1" fill="#000"/>
<rect x="18" y="750" width="3" height="1" fill="#000"/>
<rect x="24" y="750" width="3" height="1" fill="#000"/>
<rect x="30" y="750" width="3" height="1" fill="#000"/>
<rect x="36" y="750" width="3" height="1" fill="#000"/>
<rect x="42" y="750" width="3" height="1" fill="#000"/>
<rect x="48" y="750" width="3" height="1" fill="#000"/>
<rect x="54" y="750" width="3" height="1" fill="#000"/>
<rect x="60" y="750" width="3" height="1" fill="#000"/>
<rect x="66" y="750" width="3" height="1" fill="#000"/>
<rect x="72" y="750" width="3" height="1" fill="#000"/>
<rect x="78" y="750" width="3" height="1" fill="#000"/>
<rect x="84" y="750" width="3" height="1" fill="#000"/>
<rect x="90" y="750" width="3" height="1" fill="#000"/>
<rect x="96" y="750" width="3" height="1" fill="#000"/>
<rect x="102" y="750" width="3" height="1" fill="#000"/>
<rect x="108" y="750" width="3" height="1" fill="#000"/>
<rect x="114" y="750" width="3" height="1" fill="#000"/>
<rect x="120" y="750" width="3" height="1" fill="#000"/>
<rect x="126" y="750" width="3" height="1" fill="#000"/>
<rect x="132" y="750" width="3" height="1" fill="#000"/>
<rect x="138" y="750" width="3" height="1" fill="#000"/>
<rect x="144" y="750" width="3" height="1" fill="#000"/>
<rect x="150" y="750" width="3" height="1" fill="#000"/>
<rect x="156" y="750" width="3" height="1" fill="#000"/>
<rect x="162" y="750" width="3" height="1" fill="#000"/>
<rect x="168" y="750" width="3" height="1" fill="#000"/>
<rect x="174" y="750" width="3" height="1" fill="#000"/>
<rect x="180" y="750" width="3" height="1" fill="#000"/>
<rect x="186" y="750" width="3" height="1" fill="#000"/>
<rect x="192" y="750" width="3" height="1" fill="#000"/>
<rect x="198" y="750" width="3" height="1" fill="#000"/>
<rect x="204" y="750" width="3" height="1" fill="#000"/>
<rect x="210" y="750" width="3" height="1" fill="#000"/>
<rect x="216" y="750" width="3" height="1" fill="#000"/>
<rect x="222" y="750" width="3" height="1" fill="#000"/>
<rect x="228" y="750" width="3" height="1" fill="#000"/>
<rect x="234" y="750" width="3" height="1" fill="#000"/>
<rect x="240" y="750" width="3" height="1" fill="#000"/>
<rect x="246" y="750" width="3" height="1" fill="#000"/>
<rect x="252" y="750" width="3" height="1" fill="#000"/>
<rect x="258" y="750" width="3" height="1" fill="#000"/>
<rect x="264" y="750" width="3" height="1" fill="#000"/>
<rect x="270" y="750" width="3" height="1" fill="#000"/>
<rect x="276" y="750" width="3" height="1" fill="#000"/>
<rect x="282" y="750" width="3" height="1" fill="#000"/>
<rect x="288" y="750" width="3" height="1" fill="#000"/>
<rect x="294" y="750" width="3" height="1" fill="#000"/>
<rect x="300" y="750" width="3" height="1" fill="#000"/>
<rect x="306" y="750" width="3" height="1" fill="#000"/>
<rect x="312" y="750" width="3" height="1" fill="#000"/>
<rect x="318" y="750" width="3" height="1" fill="#000"/>
<rect x="324" y="750" width="3" height="1" fill="#000"/>
<rect x="330" y="750" width="3" height="1" fill="#000"/>
<rect x="336" y="750" width="3" height="1" fill="#000"/>
<rect x="342" y="750" width="3" height="1" fill="#000"/>
<rect x="348" y="750" width="3" height="1" fill="#000"/>
<rect x="354" y="750" width="3" height="1" fill="#000"/>
<rect x="360" y="750" width="3" height="1" fill="#000"/>
<rect x="366" y="750" width="3" height="1" fill="#000"/>
<rect x="372" y="750" width="3" height="1" fill="#000"/>
<rect x="378" y="750" width="3" height="1" fill="#000"/>
<rect x="384" y="750" width="3" height="1" fill="#000"/>
<rect x="390" y="750" width="3" height="1" fill="#000"/>
<rect x="396" y="750" width="3" height="1" fill="#000"/>
<rect x="402" y="750" width="3" height="1" fill="#000"/>
<rect x="408" y="750" width="3" height="1" fill="#000"/>
<rect x="414" y="750" width="3" height="1" fill="#000"/>
<rect x="420" y="750" width="3" height="1" fill="#000"/>
<rect x="426" y="750" width="3" height="1" fill="#000"/>
<rect x="432" y="750" width="3" height="1" fill="#000"/>
<rect x="438" y="750" width="3" height="1" fill="#000"/>
<rect x="444" y="750" width="3" height="1" fill="#000"/>
<rect x="450" y="750" width="3" height="1" fill="#000"/>
<rect x="456" y="750" width="3" height="1" fill="#000"/>
<rect x="462" y="750" width="3" height="1" fill="#000"/>
<rect x="468" y="750" width="3" height="1" fill="#000"/>
<rect x="474" y="750" width="3" height="1" fill="#000"/>
<rect x="480" y="750" width="3" height="1" fill="#000"/>
<rect x="486" y="750" width="3" height="1" fill="#000"/>
<rect x="492" y="750" width="3" height="1" fill="#000"/>
<rect x="498" y="750" width="3" height="1" fill="#000"/>
<rect x="504" y="750" width="3" height="1" fill="#000"/>
<rect x="510" y="750" width="3" height="1" fill="#000"/>
<rect x="516" y="750" width="3" height="1" fill="#000"/>
<rect x="522" y="750" width="3" height="1" fill="#000"/>
<rect x="528" y="750" width="3" height="1" fill="#000"/>
<rect x="534" y="750" width="3" height="1" fill="#000"/>
<rect x="540" y="750" width="3" height="1" fill="#000"/>
<rect x="546" y="750" width="3" height="1" fill="#000"/>
<rect x="552" y="750" width="3" height="1" fill="#000"/>
<rect x="558" y="750" width="3" height="1" fill="#000"/>
<rect x="564" y="750" width="3" height="1" fill="#000"/>
<rect x="570" y="750" width="3" height="1" fill="#000"/>
<rect x="576" y="750" width="3" height="1" fill="#000"/>
<rect x="582" y="750" width="3" height="1" fill="#000"/>
<rect x="588" y="750" width="3" height="1" fill="#000"/>
<rect x="594" y="750" width="3" height="1" fill="#000"/>
<rect x="600" y="750" width="3" height="1" fill="#000"/>
<rect x="606" y="750" width="3" height="1" fill="#000"/>
<rect x="612" y="750" width="3" height="1" fill="#000"/>
<rect x="618" y="750" width="3" height="1" fill="#000"/>
<rect x="624" y="750" width="3" height="1" fill="#000"/>
<rect x="630" y="750" width="3" height="1" fill="#000"/>
<rect x="636" y="750" width="3" height="1" fill="#000"/>
<rect x="642" y="750" width="3" height="1" fill="#000"/>
<rect x="648" y="750" width="3" height="1" fill="#000"/>
<rect x="654" y="750" width="3" height="1" fill="#000"/>
<rect x="660" y="750" width="3" height="1" fill="#000"/>
<rect x="666" y="750" width="3" height="1" fill="#000"/>
<rect x="672" y="750" width="3" height="1" fill="#000"/>
<rect x="678" y="750" width="3" height="1" fill="#000"/>
<rect x="684" y="750" width="3" height="1" fill="#000"/>
<rect x="690" y="750" width="3" height="1" fill="#000"/>
<rect x="696" y="750" width="3" height="1" fill="#000"/>
<rect x="702" y="750" width="3" height="1" fill="#000"/>
<rect x="708" y="750" width="3" height="1" fill="#000"/>
<rect x="714" y="750" width="3" height="1" fill="#000"/>
<rect x="720" y="750" width="3" height="1" fill="#000"/>
<rect x="726" y="750" width="3" height="1" fill="#000"/>
<rect x="732" y="750" width="3" height="1" fill="#000"/>
<rect x="738" y="750" width="3" height="1" fill="#000"/>
<rect x="744" y="750" width="3" height="1" fill="#000"/>
<rect x="750" y="750" width="3" height="1" fill="#000"/>
<rect x="756" y="750" width="3" height="1" fill="#000"/>
<rect x="762" y="750" width="3" height="1" fill="#000"/>
<rect x="768" y="750" width="3" height="1" fill="#000"/>
<rect x="774" y="750" width="3" height="1" fill="#000"/>
<rect x="780" y="750" width="3" height="1" fill="#000"/>
<rect x="786" y="750" width="3" height="1" fill="#000"/>
<rect x="792" y="750" width="3" height="1" fill="#000"/>
<rect x="798" y="750" width="3" height="1" fill="#000"/>
<rect x="804" y="750" width="3" height="1" fill="#000"/>
<rect x="810" y="750" width="3" height="1" fill="#000"/>
<rect x="816" y="750" width="3" height="1" fill="#000"/>
<rect x="822" y="750" width="3" height="1" fill="#000"/>
<rect x="828" y="750" width="3" height="1" fill="#000"/>
<rect x="834" y="750" width="3" height="1" fill="#000"/>
<rect x="840" y="750" width="3" height="1" fill="#000"/>
<rect x="846" y="750" width="3" height="1" fill="#000"/>
<rect x="852" y="750" width="3" height="1" fill="#000"/>
<rect x="858" y="750" width="3" height="1" fill="#000"/>
<rect x="864" y="750" width="3" height="1" fill="#000"/>
<rect x="870" y="750" width="3" height="1" fill="#000"/>
<rect x="876" y="750" width="3" height="1" fill="#000"/>
<rect x="882" y="750" width="3" height="1" fill="#000"/>
<rect x="888" y="750" width="3" height="1" fill="#000"/>
<rect x="894" y="750" width="3" height="1" fill="#000"/>
<rect x="900" y="750" width="3" height="1" fill="#000"/>
<rect x="906" y="750" width="3" height="1" fill="#000"/>
<rect x="912" y="750" width="3" height="1" fill="#000"/>
<rect x="918" y="750" width="3" height="1" fill="#000"/>
<rect x="924" y="750" width="3" height="1" fill="#000"/>
<rect x="930" y="750" width="3" height="1" fill="#000"/>
<rect x="936" y="750" width="3" height="1" fill="#000"/>
<rect x="942" y="750" width="3" height="1" fill="#000"/>
<rect x="948" y="750" width="3" height="1" fill="#000"/>
<rect x="954" y="750" width="3" height="1" fill="#000"/>
<rect x="960" y="750" width="3" height="1" fill="#000"/>
<rect x="966" y="750" width="3" height="1" fill="#000"/>
<rect x="972" y="750" width="3" height="1" fill="#000"/>
<rect x="978" y="750" width="3" height="1" fill="#000"/>
<rect x="984" y="750" width="3" height="1" fill="#000"/>
<rect x="990" y="750" width="3" height="1" fill="#000"/>
<rect x="996" y="750" width="3" height="1" fill="#000"/>
<rect x="1002" y="750" width="3" height="1" fill="#000"/>
<rect x="1008" y="750" width="3" height="1" fill="#000"/>
<rect x="1014" y="750" width="3" height="1" fill="#000"/>
<rect x="1020" y="750" width="3" height="1" fill="#000"/>
<rect x="1026" y="750" width="3" height="1" fill="#000"/>
<rect x="1032" y="750" width="3" height="1" fill="#000"/>
<rect x="1038" y="750" width="3" height="1" fill="#000"/>
<rect x="1044" y="750" width="3" height="1" fill="#000"/>
<rect x="1050" y="750" width="3" height="1" fill="#000"/>
<rect x="1056" y="750" width="3" height="1" fill="#000"/>
<rect x="1062" y="750" width="3" height="1" fill="#000"/>
<rect x="1068" y="750" width="3" height="1" fill="#000"/>
<rect x="1074" y="750" width="3" height="1" fill="#000"/>
<rect x="1080" y="750" width="3" height="1" fill="#000"/>
<rect x="1086" y="750" width="3" height="1" fill="#000"/>
<rect x="1092" y="750" width="3" height="1" fill="#000"/>
<rect x="1098" y="750" width="3" height="1" fill="#000"/>
<rect x="1104" y="750" width="3" height="1" fill="#000"/>
<rect x="1110" y="750" width="3" height="1" fill="#000"/>
<rect x="1116" y="750" width="3" height="1" fill="#000"/>
<rect x="1122" y="750" width="3" height="1" fill="#000"/>
<rect x="1128" y="750" width="3" height="1" fill="#000"/>
<rect x="1134" y="750" width="3" height="1" fill="#000"/>
<rect x="1140" y="750" width="3" height="1" fill="#000"/>
<rect x="1146" y="750" width="3" height="1" fill="#000"/>
<rect x="1152" y="750" width="3" height="1" fill="#000"/>
<rect x="1158" y="750" width="3" height="1" fill="#000"/>
<rect x="1164" y="750" width="3" height="1" fill="#000"/>
<rect x="1170" y="750" width="3" height="1" fill="#000"/>
<rect x="1176" y="750" width="3" height="1" fill="#000"/>
<rect x="1182" y="750" width="3" height="1" fill="#000"/>
<rect x="1188" y="750" width="3" height="1" fill="#000"/>
<rect x="1194" y="750" width="3" height="1" fill="#000"/>
<rect x="1200" y="750" width="3" height="1" fill="#000"/>
<rect x="1206" y="750" width="3" height="1" fill="#000"/>
<rect x="1212" y="750" width="3" height="1" fill="#000"/>
<rect x="1218" y="750" width="3" height="1" fill="#000"/>
<rect x="1224" y="750" width="3" height="1" fill="#000"/>
<rect x="1230" y="750" width="3" height="1" fill="#000"/>
<rect x="1236" y="750" width="3" height="1" fill="#000"/>
<rect x="1242" y="750" width="3" height="1" fill="#000"/>
<rect x="1248" y="750" width="3" height="1" fill="#000"/>
<rect x="1254" y="750" width="3" height="1" fill="#000"/>
<rect x="1260" y="750" width="3" height="1" fill="#000"/>
<rect x="1266" y="750" width="3" height="1" fill="#000"/>
<rect x="1272" y="750" width="3" height="1" fill="#000"/>
<rect x="1278" y="750" width="3" height="1" fill="#000"/>
<rect x="1284" y="750" width="3" height="1" fill="#000"/>
<rect x="1290" y="750" width="3" height="1" fill="#000"/>
<rect x="1296" y="750" width="3" height="1" fill="#000"/>
<rect x="1302" y="750" width="3" height="1" fill="#000"/>
<rect x="1308" y="750" width="3" height="1" fill="#000"/>
<rect x="1314" y="750" width="3" height="1" fill="#000"/>
<rect x="1320" y="750" width="3" height="1" fill="#000"/>
<rect x="1326" y="750" width="3" height="1" fill="#000"/>
<rect x="1332" y="750" width="3" height="1" fill="#000"/>
<rect x="1338" y="750" width="3" height="1" fill="#000"/>
<rect x="1344" y="750" width="3" height="1" fill="#000"/>
<rect x="1350" y="750" width="3" height="1" fill="#000"/>
<rect x="1356" y="750" width="3" height="1" fill="#000"/>
<rect x="1362" y="750" width="3" height="1" fill="#000"/>
<rect x="1368" y="750" width="3" height="1" fill="#000"/>
<rect x="1374" y="750" width="3" height="1" fill="#000"/>
<rect x="1380" y="750" width="3" height="1" fill="#000"/>
<rect x="1386" y="750" width="3" height="1" fill="#000"/>
<rect x="1392" y="750" width="3" height="1" fill="#000"/>
<rect x="1398" y="750" width="3" height="1" fill="#000"/>
<rect x="1404" y="750" width="3" height="1" fill="#000"/>
<rect x="1410" y="750" width="3" height="1" fill="#000"/>
<rect x="1416" y="750" width="3" height="1" fill="#000"/>
<rect x="1422" y="750" width="3" height="1" fill="#000"/>
<rect x="1428" y="750" width="3" height="1" fill="#000"/>
<rect x="1434" y="750" width="3" height="1" fill="#000"/>
<rect x="1440" y="750" width="3" height="1" fill="#000"/>
<rect x="1446" y="750" width="3" height="1" fill="#000"/>
<rect x="1452" y="750" width="3" height="1" fill="#000"/>
<rect x="1458" y="750" width="3" height="1" fill="#000"/>
<rect x="1464" y="750" width="3" height="1" fill="#000"/>
<rect x="1470" y="750" width="3" height="1" fill="#000"/>
<rect x="1476" y="750" width="3" height="1" fill="#000"/>
<rect x="1482" y="750" width="3" height="1" fill="#000"/>
<rect x="1488" y="750" width="3" height="1" fill="#000"/>
<rect x="1494" y="750" width="3" height="1" fill="#000"/>
<rect x="1500" y="750" width="3" height="1" fill="#000"/>
<rect x="1506" y="750" width="3" height="1" fill="#000"/>
<rect x="1512" y="750" width="3" height="1" fill="#000"/>
<rect x="1518" y="750" width="3" height="1" fill="#000"/>
<rect x="1524" y="750" width="3" height="1" fill="#000"/>
<rect x="1530" y="750" width="3" height="1" fill="#000"/>
<rect x="1536" y="750" width="3" height="1" fill="#000"/>
<rect x="1542" y="750" width="3" height="1" fill="#000"/>
<rect x="1548" y="750" width="3" height="1" fill="#000"/>
<rect x="1554" y="750" width="3" height="1" fill="#000"/>
<rect x="1560" y="750" width="3" height="1" fill="#000"/>
<rect x="1566" y="750" width="3" height="1" fill="#000"/>
<rect x="1572" y="750" width="3" height="1" fill="#000"/>
<rect x="1578" y="750" width="3" height="1" fill="#000"/>
<rect x="1584" y="750" width="3" height="1" fill="#000"/>
<rect x="1590" y="750" width="3" height="1" fill="#000"/>
<rect x="1596" y="750" width="3" height="1" fill="#000"/>
<rect x="1602" y="750" width="3" height="1" fill="#000"/>
<rect x="1608" y="750" width="3" height="1" fill="#000"/>
<rect x="1614" y="750" width="3" height="1" fill="#000"/>
<rect x="6" y="780" width="3" height="1" fill="#000"/>
<rect x="12" y="780" width="3" height="1" fill="#000"/>
<rect x="18" y="780" width="3" height="1" fill="#000"/>
<rect x="24" y="780" width="3" height="1" fill="#000"/>
<rect x="30" y="780" width="3" height="1" fill="#000"/>
<rect x="36" y="780" width="3" height="1" fill="#000"/>
<rect x="42" y="780" width="3" height="1" fill="#000"/>
<rect x="48" y="780" width="3" height="1" fill="#000"/>
<rect x="54" y="780" width="3" height="1" fill="#000"/>
<rect x="60" y="780" width="3" height="1" fill="#000"/>
<rect x="66" y="780" width="3" height="1" fill="#000"/>
<rect x="72" y="780" width="3" height="1" fill="#000"/>
<rect x="78" y="780" width="3" height="1" fill="#000"/>
<rect x="84" y="780" width="3" height="1" fill="#000"/>
<rect x="90" y="780" width="3" height="1" fill="#000"/>
<rect x="96" y="780" width="3" height="1" fill="#000"/>
<rect x="102" y="780" width="3" height="1" fill="#000"/>
<rect x="108" y="780" width="3" height="1" fill="#000"/>
<rect x="114" y="780" width="3" height="1" fill="#000"/>
<rect x="120" y="780" width="3" height="1" fill="#000"/>
<rect x="126" y="780" width="3" height="1" fill="#000"/>
<rect x="132" y="780" width="3" height="1" fill="#000"/>
<rect x="138" y="780" width="3" height="1" fill="#000"/>
<rect x="144" y="780" width="3" height="1" fill="#000"/>
<rect x="150" y="780" width="3" height="1" fill="#000"/>
<rect x="156" y="780" width="3" height="1" fill="#000"/>
<rect x="162" y="780" width="3" height="1" fill="#000"/>
<rect x="168" y="780" width="3" height="1" fill="#000"/>
<rect x="174" y="780" width="3" height="1" fill="#000"/>
<rect x="180" y="780" width="3" height="1" fill="#000"/>
<rect x="186" y="780" width="3" height="1" fill="#000"/>
<rect x="192" y="780" width="3" height="1" fill="#000"/>
<rect x="198" y="780" width="3" height="1" fill="#000"/>
<rect x="204" y="780" width="3" height="1" fill="#000"/>
<rect x="210" y="780" width="3" height="1" fill="#000"/>
<rect x="216" y="780" width="3" height="1" fill="#000"/>
<rect x="222" y="780" width="3" height="1" fill="#000"/>
<rect x="228" y="780" width="3" height="1" fill="#000"/>
<rect x="234" y="780" width="3" height="1" fill="#000"/>
<rect x="240" y="780" width="3" height="1" fill="#000"/>
<rect x="246" y="780" width="3" height="1" fill="#000"/>
<rect x="252" y="780" width="3" height="1" fill="#000"/>
<rect x="258" y="780" width="3" height="1" fill="#000"/>
<rect x="264" y="780" width="3" height="1" fill="#000"/>
<rect x="270" y="780" width="3" height="1" fill="#000"/>
<rect x="276" y="780" width="3" height="1" fill="#000"/>
<rect x="282" y="780" width="3" height="1" fill="#000"/>
<rect x="288" y="780" width="3" height="1" fill="#000"/>
<rect x="294" y="780" width="3" height="1" fill="#000"/>
<rect x="300" y="780" width="3" height="1" fill="#000"/>
<rect x="306" y="780" width="3" height="1" fill="#000"/>
<rect x="312" y="780" width="3" height="1" fill="#000"/>
<rect x="318" y="780" width="3" height="1" fill="#000"/>
<rect x="324" y="780" width="3" height="1" fill="#000"/>
<rect x="330" y="780" width="3" height="1" fill="#000"/>
<rect x="336" y="780" width="3" height="1" fill="#000"/>
<rect x="342" y="780" width="3" height="1" fill="#000"/>
<rect x="348" y="780" width="3" height="1" fill="#000"/>
<rect x="354" y="780" width="3" height="1" fill="#000"/>
<rect x="360" y="780" width="3" height="1" fill="#000"/>
<rect x="366" y="780" width="3" height="1" fill="#000"/>
<rect x="372" y="780" width="3" height="1" fill="#000"/>
<rect x="378" y="780" width="3" height="1" fill="#000"/>
<rect x="384" y="780" width="3" height="1" fill="#000"/>
<rect x="390" y="780" width="3" height="1" fill="#000"/>
<rect x="396" y="780" width="3" height="1" fill="#000"/>
<rect x="402" y="780" width="3" height="1" fill="#000"/>
<rect x="408" y="780" width="3" height="1" fill="#000"/>
<rect x="414" y="780" width="3" height="1" fill="#000"/>
<rect x="420" y="780" width="3" height="1" fill="#000"/>
<rect x="426" y="780" width="3" height="1" fill="#000"/>
<rect x="432" y="780" width="3" height="1" fill="#000"/>
<rect x="438" y="780" width="3" height="1" fill="#000"/>
<rect x="444" y="780" width="3" height="1" fill="#000"/>
<rect x="450" y="780" width="3" height="1" fill="#000"/>
<rect x="456" y="780" width="3" height="1" fill="#000"/>
<rect x="462" y="780" width="3" height="1" fill="#000"/>
<rect x="468" y="780" width="3" height="1" fill="#000"/>
<rect x="474" y="780" width="3" height="1" fill="#000"/>
<rect x="480" y="780" width="3" height="1" fill="#000"/>
<rect x="486" y="780" width="3" height="1" fill="#000"/>
<rect x="492" y="780" width="3" height="1" fill="#000"/>
<rect x="498" y="780" width="3" height="1" fill="#000"/>
<rect x="504" y="780" width="3" height="1" fill="#000"/>
<rect x="510" y="780" width="3" height="1" fill="#000"/>
<rect x="516" y="780" width="3" height="1" fill="#000"/>
<rect x="522" y="780" width="3" height="1" fill="#000"/>
<rect x="528" y="780" width="3" height="1" fill="#000"/>
<rect x="534" y="780" width="3" height="1" fill="#000"/>
<rect x="540" y="780" width="3" height="1" fill="#000"/>
<rect x="546" y="780" width="3" height="1" fill="#000"/>
<rect x="552" y="780" width="3" height="1" fill="#000"/>
<rect x="558" y="780" width="3" height="1" fill="#000"/>
<rect x="564" y="780" width="3" height="1" fill="#000"/>
<rect x="570" y="780" width="3" height="1" fill="#000"/>
<rect x="576" y="780" width="3" height="1" fill="#000"/>
<rect x="582" y="780" width="3" height="1" fill="#000"/>
<rect x="588" y="780" width="3" height="1" fill="#000"/>
<rect x="594" y="780" width="3" height="1" fill="#000"/>
<rect x="600" y="780" width="3" height="1" fill="#000"/>
<rect x="606" y="780" width="3" height="1" fill="#000"/>
<rect x="612" y="780" width="3" height="1" fill="#000"/>
<rect x="618" y="780" width="3" height="1" fill="#000"/>
<rect x="624" y="780" width="3" height="1" fill="#000"/>
<rect x="630" y="780" width="3" height="1" fill="#000"/>
<rect x="636" y="780" width="3" height="1" fill="#000"/>
<rect x="642" y="780" width="3" height="1" fill="#000"/>
<rect x="648" y="780" width="3" height="1" fill="#000"/>
<rect x="654" y="780" width="3" height="1" fill="#000"/>
<rect x="660" y="780" width="3" height="1" fill="#000"/>
<rect x="666" y="780" width="3" height="1" fill="#000"/>
<rect x="672" y="780" width="3" height="1" fill="#000"/>
<rect x="678" y="780" width="3" height="1" fill="#000"/>
<rect x="684" y="780" width="3" height="1" fill="#000"/>
<rect x="690" y="780" width="3" height="1" fill="#000"/>
<rect x="696" y="780" width="3" height="1" fill="#000"/>
<rect x="702" y="780" width="3" height="1" fill="#000"/>
<rect x="708" y="780" width="3" height="1" fill="#000"/>
<rect x="714" y="780" width="3" height="1" fill="#000"/>
<rect x="720" y="780" width="3" height="1" fill="#000"/>
<rect x="726" y="780" width="3" height="1" fill="#000"/>
<rect x="732" y="780" width="3" height="1" fill="#000"/>
<rect x="738" y="780" width="3" height="1" fill="#000"/>
<rect x="744" y="780" width="3" height="1" fill="#000"/>
<rect x="750" y="780" width="3" height="1" fill="#000"/>
<rect x="756" y="780" width="3" height="1" fill="#000"/>
<rect x="762" y="780" width="3" height="1" fill="#000"/>
<rect x="768" y="780" width="3" height="1" fill="#000"/>
<rect x="774" y="780" width="3" height="1" fill="#000"/>
<rect x="780" y="780" width="3" height="1" fill="#000"/>
<rect x="786" y="780" width="3" height="1" fill="#000"/>
<rect x="792" y="780" width="3" height="1" fill="#000"/>
<rect x="798" y="780" width="3" height="1" fill="#000"/>
<rect x="804" y="780" width="3" height="1" fill="#000"/>
<rect x="810" y="780" width="3" height="1" fill="#000"/>
<rect x="816" y="780" width="3" height="1" fill="#000"/>
<rect x="822" y="780" width="3" height="1" fill="#000"/>
<rect x="828" y="780" width="3" height="1" fill="#000"/>
<rect x="834" y="780" width="3" height="1" fill="#000"/>
<rect x="840" y="780" width="3" height="1" fill="#000"/>
<rect x="846" y="780" width="3" height="1" fill="#000"/>
<rect x="852" y="780" width="3" height="1" fill="#000"/>
<rect x="858" y="780" width="3" height="1" fill="#000"/>
<rect x="864" y="780" width="3" height="1" fill="#000"/>
<rect x="870" y="780" width="3" height="1" fill="#000"/>
<rect x="876" y="780" width="3" height="1" fill="#000"/>
<rect x="882" y="780" width="3" height="1" fill="#000"/>
<rect x="888" y="780" width="3" height="1" fill="#000"/>
<rect x="894" y="780" width="3" height="1" fill="#000"/>
<rect x="900" y="780" width="3" height="1" fill="#000"/>
<rect x="906" y="780" width="3" height="1" fill="#000"/>
<rect x="912" y="780" width="3" height="1" fill="#000"/>
<rect x="918" y="780" width="3" height="1" fill="#000"/>
<rect x="924" y="780" width="3" height="1" fill="#000"/>
<rect x="930" y="780" width="3" height="1" fill="#000"/>
<rect x="936" y="780" width="3" height="1" fill="#000"/>
<rect x="942" y="780" width="3" height="1" fill="#000"/>
<rect x="948" y="780" width="3" height="1" fill="#000"/>
<rect x="954" y="780" width="3" height="1" fill="#000"/>
<rect x="960" y="780" width="3" height="1" fill="#000"/>
<rect x="966" y="780" width="3" height="1" fill="#000"/>
<rect x="972" y="780" width="3" height="1" fill="#000"/>
<rect x="978" y="780" width="3" height="1" fill="#000"/>
<rect x="984" y="780" width="3" height="1" fill="#000"/>
<rect x="990" y="780" width="3" height="1" fill="#000"/>
<rect x="996" y="780" width="3" height="1" fill="#000"/>
<rect x="1002" y="780" width="3" height="1" fill="#000"/>
<rect x="1008" y="780" width="3" height="1" fill="#000"/>
<rect x="1014" y="780" width="3" height="1" fill="#000"/>
<rect x="1020" y="780" width="3" height="1" fill="#000"/>
<rect x="1026" y="780" width="3" height="1" fill="#000"/>
<rect x="1032" y="780" width="3" height="1" fill="#000"/>
<rect x="1038" y="780" width="3" height="1" fill="#000"/>
<rect x="1044" y="780" width="3" height="1" fill="#000"/>
<rect x="1050" y="780" width="3" height="1" fill="#000"/>
<rect x="1056" y="780" width="3" height="1" fill="#000"/>
<rect x="1062" y="780" width="3" height="1" fill="#000"/>
<rect x="1068" y="780" width="3" height="1" fill="#000"/>
<rect x="1074" y="780" width="3" height="1" fill="#000"/>
<rect x="1080" y="780" width="3" height="1" fill="#000"/>
<rect x="1086" y="780" width="3" height="1" fill="#000"/>
<rect x="1092" y="780" width="3" height="1" fill="#000"/>
<rect x="1098" y="780" width="3" height="1" fill="#000"/>
<rect x="1104" y="780" width="3" height="1" fill="#000"/>
<rect x="1110" y="780" width="3" height="1" fill="#000"/>
<rect x="1116" y="780" width="3" height="1" fill="#000"/>
<rect x="1122" y="780" width="3" height="1" fill="#000"/>
<rect x="1128" y="780" width="3" height="1" fill="#000"/>
<rect x="1134" y="780" width="3" height="1" fill="#000"/>
<rect x="1140" y="780" width="3" height="1" fill="#000"/>
<rect x="1146" y="780" width="3" height="1" fill="#000"/>
<rect x="1152" y="780" width="3" height="1" fill="#000"/>
<rect x="1158" y="780" width="3" height="1" fill="#000"/>
<rect x="1164" y="780" width="3" height="1" fill="#000"/>
<rect x="1170" y="780" width="3" height="1" fill="#000"/>
<rect x="1176" y="780" width="3" height="1" fill="#000"/>
<rect x="1182" y="780" width="3" height="1" fill="#000"/>
<rect x="1188" y="780" width="3" height="1" fill="#000"/>
<rect x="1194" y="780" width="3" height="1" fill="#000"/>
<rect x="1200" y="780" width="3" height="1" fill="#000"/>
<rect x="1206" y="780" width="3" height="1" fill="#000"/>
<rect x="1212" y="780" width="3" height="1" fill="#000"/>
<rect x="1218" y="780" width="3" height="1" fill="#000"/>
<rect x="1224" y="780" width="3" height="1" fill="#000"/>
<rect x="1230" y="780" width="3" height="1" fill="#000"/>
<rect x="1236" y="780" width="3" height="1" fill="#000"/>
<rect x="1242" y="780" width="3" height="1" fill="#000"/>
<rect x="1248" y="780" width="3" height="1" fill="#000"/>
<rect x="1254" y="780" width="3" height="1" fill="#000"/>
<rect x="1260" y="780" width="3" height="1" fill="#000"/>
<rect x="1266" y="780" width="3" height="1" fill="#000"/>
<rect x="1272" y="780" width="3" height="1" fill="#000"/>
<rect x="1278" y="780" width="3" height="1" fill="#000"/>
<rect x="1284" y="780" width="3" height="1" fill="#000"/>
<rect x="1290" y="780" width="3" height="1" fill="#000"/>
<rect x="1296" y="780" width="3" height="1" fill="#000"/>
<rect x="1302" y="780" width="3" height="1" fill="#000"/>
<rect x="1308" y="780" width="3" height="1" fill="#000"/>
<rect x="1314" y="780" width="3" height="1" fill="#000"/>
<rect x="1320" y="780" width="3" height="1" fill="#000"/>
<rect x="1326" y="780" width="3" height="1" fill="#000"/>
<rect x="1332" y="780" width="3" height="1" fill="#000"/>
<rect x="1338" y="780" width="3" height="1" fill="#000"/>
<rect x="1344" y="780" width="3" height="1" fill="#000"/>
<rect x="1350" y="780" width="3" height="1" fill="#000"/>
<rect x="1356" y="780" width="3" height="1" fill="#000"/>
<rect x="1362" y="780" width="3" height="1" fill="#000"/>
<rect x="1368" y="780" width="3" height="1" fill="#000"/>
<rect x="1374" y="780" width="3" height="1" fill="#000"/>
<rect x="1380" y="780" width="3" height="1" fill="#000"/>
<rect x="1386" y="780" width="3" height="1" fill="#000"/>
<rect x="1392" y="780" width="3" height="1" fill="#000"/>
<rect x="1398" y="780" width="3" height="1" fill="#000"/>
<rect x="1404" y="780" width="3" height="1" fill="#000"/>
<rect x="1410" y="780" width="3" height="1" fill="#000"/>
<rect x="1416" y="780" width="3" height="1" fill="#000"/>
<rect x="1422" y="780" width="3" height="1" fill="#000"/>
<rect x="1428" y="780" width="3" height="1" fill="#000"/>
<rect x="1434" y="780" width="3" height="1" fill="#000"/>
<rect x="1440" y="780" width="3" height="1" fill="#000"/>
<rect x="1446" y="780" width="3" height="1" fill="#000"/>
<rect x="1452" y="780" width="3" height="1" fill="#000"/>
<rect x="1458" y="780" width="3" height="1" fill="#000"/>
<rect x="1464" y="780" width="3" height="1" fill="#000"/>
<rect x="1470" y="780" width="3" height="1" fill="#000"/>
<rect x="1476" y="780" width="3" height="1" fill="#000"/>
<rect x="1482" y="780" width="3" height="1" fill="#000"/>
<rect x="1488" y="780" width="3" height="1" fill="#000"/>
<rect x="1494" y="780" width="3" height="1" fill="#000"/>
<rect x="1500" y="780" width="3" height="1" fill="#000"/>
<rect x="1506" y="780" width="3" height="1" fill="#000"/>
<rect x="1512" y="780" width="3" height="1" fill="#000"/>
<rect x="1518" y="780" width="3" height="1" fill="#000"/>
<rect x="1524" y="780" width="3" height="1" fill="#000"/>
<rect x="1530" y="780" width="3" height="1" fill="#000"/>
<rect x="1536" y="780" width="3" height="1" fill="#000"/>
<rect x="1542" y="780" width="3" height="1" fill="#000"/>
<rect x="1548" y="780" width="3" height="1" fill="#000"/>
<rect x="1554" y="780" width="3" height="1" fill="#000"/>
<rect x="1560" y="780" width="3" height="1" fill="#000"/>
<rect x="1566" y="780" width="3" height="1" fill="#000"/>
<rect x="1572" y="780" width="3" height="1" fill="#000"/>
<rect x="1578" y="780" width="3" height="1" fill="#000"/>
<rect x="1584" y="780" width="3" height="1" fill="#000"/>
<rect x="1590" y="780" width="3" height="1" fill="#000"/>
<rect x="1596" y="780" width="3" height="1" fill="#000"/>
<rect x="1602" y="780" width="3" height="1" fill="#000"/>
<rect x="1608" y="780" width="3" height="1" fill="#000"/>
<rect x="1614" y="780" width="3" height="1" fill="#000"/>
<rect x="1618" y="37" width="2" height="1" fill="#000"/>
<rect x="1618" y="70" width="2" height="1" fill="#000"/>
<rect x="1618" y="103" width="2" height="1" fill="#000"/>
<rect x="1618" y="136" width="2" height="1" fill="#000"/>
<rect x="1618" y="169" width="2" height="1" fill="#000"/>
<rect x="1618" y="202" width="2" height="1" fill="#000"/>
<rect x="1618" y="235" width="2" height="1" fill="#000"/>
<rect x="1618" y="268" width="2" height="1" fill="#000"/>
<rect x="1618" y="301" width="2" height="1" fill="#000"/>
<rect x="1618" y="334" width="2" height="1" fill="#000"/>
<rect x="1618" y="367" width="2" height="1" fill="#000"/>
<rect x="1618" y="400" width="2" height="1" fill="#000"/>
<rect x="1618" y="433" width="2" height="1" fill="#000"/>
<rect x="1618" y="466" width="2" height="1" fill="#000"/>
<rect x="1618" y="499" width="2" height="1" fill="#000"/>
<rect x="1618" y="532" width="2" height="1" fill="#000"/>
<rect x="1618" y="565" width="2" height="1" fill="#000"/>
<rect x="1618" y="598" width="2" height="1" fill="#000"/>
<rect x="1618" y="605" width="1" height="1" fill="#000"/>
<rect x="1618" y="669" width="1" height="1" fill="#000"/>
<rect x="1618" y="702" width="1" height="1" fill="#000"/>
<rect x="1618" y="707" width="1" height="1" fill="#000"/>
<rect x="1618" y="724" width="1" height="1" fill="#000"/>
<rect x="1618" y="750" width="1" height="1" fill="#000"/>
<rect x="1618" y="780" width="1" height="1" fill="#000"/>
<rect x="1618" y="793" width="1" height="1" fill="#000"/>
<rect x="5" y="795" width="1" height="3" fill="#000"/>
<rect x="69" y="795" width="1" height="3" fill="#000"/>
<rect x="133" y="795" width="1" height="3" fill="#000"/>
<rect x="197" y="795" width="1" height="3" fill="#000"/>
<rect x="261" y="795" width="1" height="3" fill="#000"/>
<rect x="325" y="795" width="1" height="3" fill="#000"/>
<rect x="389" y="795" width="1" height="3" fill="#000"/>
<rect x="453" y="795" width="1" height="3" fill="#000"/>
<rect x="517" y="795" width="1" height="3" fill="#000"/>
<rect x="581" y="795" width="1" height="3" fill="#000"/>
<rect x="645" y="795" width="1" height="3" fill="#000"/>
<rect x="709" y="795" width="1" height="3" fill="#000"/>
<rect x="773" y="795" width="1" height="3" fill="#000"/>
<rect x="837" y="795" width="1" height="3" fill="#000"/>
<rect x="901" y="795" width="1" height="3" fill="#000"/>
<rect x="965" y="795" width="1" height="3" fill="#000"/>
<rect x="1029" y="795" width="1" height="3" fill="#000"/>
<rect x="1093" y="795" width="1" height="3" fill="#000"/>
<rect x="1157" y="795" width="1" height="3" fill="#000"/>
<rect x="1221" y="795" width="1" height="3" fill="#000"/>
<rect x="1285" y="795" width="1" height="3" fill="#000"/>
</g>
<polyline points="5,664.7 21,664.7 37,664.7 53,664.7 69,664.5 85,663.6 101,663.0 117,663.0 133,662.0 149,661.0 165,661.0 181,660.0 197,660.0 213,660.5 229,661.5 245,663.5 261,665.5 277,667.6 293,671.0 309,674.0 325,678.2 341,681.6 357,685.4 373,689.1 389,692.2 405,694.5 421,695.0 437,695.0 453,692.2 469,688.3 485,681.9 501,674.8 517,667.8 533,658.9 549,650.1 565,640.4 581,632.0 597,625.2 613,620.2 629,617.3 645,616.1 661,616.1 677,619.3 693,622.4 709,626.6 725,630.6 741,635.3 757,639.0 773,642.9 789,645.8 805,649.1 821,651.3 837,653.5 853,654.7 869,655.2 885,656.7 901,658.5 917,659.7 933,660.7 949,660.7 965,660.7 981,660.2 997,659.2 1013,658.5 1029,655.2 1045,653.5 1061,651.3 1077,649.6 1093,647.1 1109,645.5 1125,643.8 1141,642.5 1157,641.3 1173,640.9 1189,640.6 1205,638.8 1221,635.6 1237,632.3 1253,630.2 1269,628.4 1285,627.3 1301,625.9 1317,624.6 1333,623.8 1334,623.8" fill="none" stroke="#ff0000" stroke-width="2" stroke-linejoin="round" shape-rendering="crispEdges"/>
<polyline points="5,750.0 21,754.0 37,746.0 53,745.0 69,742.0 85,742.0 101,746.0 117,748.0 133,745.0 149,750.0 165,749.0 181,749.0 197,751.0 213,749.0 229,755.0 245,761.0 261,766.0 277,766.0 293,766.0 309,765.0 325,765.0 341,767.0 357,762.0 373,761.0 389,762.0 405,762.0 421,764.0 437,735.0 453,735.0 469,731.0 485,732.0 501,733.0 517,731.0 533,729.0 549,732.0 565,732.0 581,737.0 597,737.0 613,737.0 629,748.0 645,749.0 661,749.0 677,749.0 693,751.0 709,751.0 725,746.0 741,746.0 757,746.0 773,747.0 789,750.0 805,752.0 821,752.0 837,745.0 853,745.0 869,743.0 885,757.0 901,754.0 917,748.0 933,747.0 949,746.0 965,742.0 981,741.0 997,737.0 1013,737.0 1029,741.0 1045,742.0 1061,746.0 1077,746.0 1093,745.0 1109,738.0 1125,737.0 1141,737.0 1157,737.0 1173,735.0 1189,734.0 1205,729.0 1221,730.0 1237,734.0 1253,736.0 1269,736.0 1285,736.0 1301,734.0 1317,739.0 1333,739.0 1334,739.0" fill="none" stroke="#1e90ff" stroke-width="2" stroke-linejoin="round" shape-rendering="crispEdges"/>
<g fill="#4e9a2d" stroke="none"><polygon points="1309.8,29.9 1309.2,33.2 1369.4,41.3 1370.0,37.9"/><polygon points="1371.2,31.4 1387.4,42.4 1368.3,48.8"/></g>
<g id="axis">
<text x="1623" y="41" textLength="33" lengthAdjust="spacingAndGlyphs">134.420</text>
<text x="1623" y="74" textLength="33" lengthAdjust="spacingAndGlyphs">134.040</text>
<text x="1623" y="107" textLength="33" lengthAdjust="spacingAndGlyphs">133.660</text>
<text x="1623" y="140" textLength="33" lengthAdjust="spacingAndGlyphs">133.280</text>
<text x="1623" y="173" textLength="33" lengthAdjust="spacingAndGlyphs">132.900</text>
<text x="1623" y="206" textLength="33" lengthAdjust="spacingAndGlyphs">132.520</text>
<text x="1623" y="239" textLength="33" lengthAdjust="spacingAndGlyphs">132.140</text>
<text x="1623" y="272" textLength="33" lengthAdjust="spacingAndGlyphs">131.750</text>
<text x="1623" y="305" textLength="33" lengthAdjust="spacingAndGlyphs">131.370</text>
<text x="1623" y="338" textLength="33" lengthAdjust="spacingAndGlyphs">130.990</text>
<text x="1623" y="371" textLength="33" lengthAdjust="spacingAndGlyphs">130.610</text>
<text x="1623" y="404" textLength="33" lengthAdjust="spacingAndGlyphs">130.230</text>
<text x="1623" y="437" textLength="33" lengthAdjust="spacingAndGlyphs">129.850</text>
<text x="1623" y="470" textLength="33" lengthAdjust="spacingAndGlyphs">129.460</text>
<text x="1623" y="503" textLength="33" lengthAdjust="spacingAndGlyphs">129.080</text>
<text x="1623" y="536" textLength="33" lengthAdjust="spacingAndGlyphs">128.700</text>
<text x="1623" y="569" textLength="33" lengthAdjust="spacingAndGlyphs">128.320</text>
<text x="1623" y="602" textLength="33" lengthAdjust="spacingAndGlyphs">127.940</text>
<text x="1621" y="614" textLength="28.5" lengthAdjust="spacingAndGlyphs">0.8719</text>
<text x="1621" y="673" textLength="17.5" lengthAdjust="spacingAndGlyphs">0.00</text>
<text x="1621" y="700" textLength="31" lengthAdjust="spacingAndGlyphs">-0.4503</text>
<text x="1621" y="716" textLength="15" lengthAdjust="spacingAndGlyphs">100</text>
<text x="1620" y="728" textLength="10.5" lengthAdjust="spacingAndGlyphs">80</text>
<text x="1620" y="754" textLength="10.5" lengthAdjust="spacingAndGlyphs">50</text>
<text x="1621" y="784" textLength="10" lengthAdjust="spacingAndGlyphs">15</text>
<text x="1621" y="791" textLength="5.5" lengthAdjust="spacingAndGlyphs">0</text>
</g>
<g shape-rendering="crispEdges">
<rect x="1619" y="80" width="41" height="11" fill="#000"/>
</g>
<text x="1623" y="89" textLength="33" lengthAdjust="spacingAndGlyphs" style="fill:#fff;stroke:#fff">133.875</text>
<g shape-rendering="crispEdges">
<rect x="1619" y="13" width="41" height="11" fill="#dc143c"/>
</g>
<text x="1623" y="22" textLength="33" lengthAdjust="spacingAndGlyphs" style="fill:#fff;stroke:#fff">134.628</text>
<g shape-rendering="crispEdges">
<rect x="1619" y="46" width="41" height="11" fill="#ff0000"/>
</g>
<text x="1623" y="55" textLength="33" lengthAdjust="spacingAndGlyphs" style="fill:#fff;stroke:#fff">134.247</text>
<g shape-rendering="crispEdges">
<rect x="1619" y="74" width="41" height="11" fill="#ffa500"/>
</g>
<text x="1623" y="83" textLength="33" lengthAdjust="spacingAndGlyphs" style="fill:#fff;stroke:#fff">133.931</text>
<g shape-rendering="crispEdges">
<rect x="1619" y="110" width="41" height="11" fill="#0000ff"/>
</g>
<text x="1623" y="119" textLength="33" lengthAdjust="spacingAndGlyphs" style="fill:#fff;stroke:#fff">133.509</text>
<g shape-rendering="crispEdges">
<rect x="1619" y="137" width="41" height="11" fill="#0000ff"/>
</g>
<text x="1623" y="146" textLength="33" lengthAdjust="spacingAndGlyphs" style="fill:#fff;stroke:#fff">133.197</text>
<g id="titles">
<text x="20" y="16" textLength="54.5" lengthAdjust="spacingAndGlyphs">USDJPY-,H4</text>
<text x="79.5" y="16" textLength="33" lengthAdjust="spacingAndGlyphs">133.821</text>
<text x="115.5" y="16" textLength="33" lengthAdjust="spacingAndGlyphs">134.023</text>
<text x="151.5" y="16" textLength="33" lengthAdjust="spacingAndGlyphs">133.679</text>
<text x="187.5" y="16" textLength="33" lengthAdjust="spacingAndGlyphs">133.875</text>
<text x="9" y="616" textLength="65" lengthAdjust="spacingAndGlyphs">MACD(12,26,9)</text>
<text x="78" y="616" textLength="28" lengthAdjust="spacingAndGlyphs">0.5689</text>
<text x="109" y="616" textLength="28" lengthAdjust="spacingAndGlyphs">0.6137</text>
<text x="9" y="718" textLength="31.5" lengthAdjust="spacingAndGlyphs">RSI(14)</text>
<text x="44" y="718" textLength="33" lengthAdjust="spacingAndGlyphs">63.1783</text>
</g>
<g id="dates">
<text x="4" y="807" textLength="50" lengthAdjust="spacingAndGlyphs">30 Jan 2023</text>
<text x="68" y="807" textLength="54" lengthAdjust="spacingAndGlyphs">30 Jan 16:00</text>
<text x="132" y="807" textLength="54" lengthAdjust="spacingAndGlyphs">31 Jan 08:00</text>
<text x="196" y="807" textLength="50.5" lengthAdjust="spacingAndGlyphs">1 Feb 00:00</text>
<text x="260" y="807" textLength="50.5" lengthAdjust="spacingAndGlyphs">1 Feb 16:00</text>
<text x="324" y="807" textLength="50.5" lengthAdjust="spacingAndGlyphs">2 Feb 08:00</text>
<text x="388" y="807" textLength="50.5" lengthAdjust="spacingAndGlyphs">3 Feb 00:00</text>
<text x="452" y="807" textLength="50.5" lengthAdjust="spacingAndGlyphs">3 Feb 16:00</text>
<text x="516" y="807" textLength="50.5" lengthAdjust="spacingAndGlyphs">6 Feb 08:00</text>
<text x="580" y="807" textLength="50.5" lengthAdjust="spacingAndGlyphs">7 Feb 00:00</text>
<text x="644" y="807" textLength="50.5" lengthAdjust="spacingAndGlyphs">7 Feb 16:00</text>
<text x="708" y="807" textLength="50.5" lengthAdjust="spacingAndGlyphs">8 Feb 08:00</text>
<text x="772" y="807" textLength="50.5" lengthAdjust="spacingAndGlyphs">9 Feb 00:00</text>
<text x="836" y="807" textLength="50.5" lengthAdjust="spacingAndGlyphs">9 Feb 16:00</text>
<text x="900" y="807" textLength="54" lengthAdjust="spacingAndGlyphs">10 Feb 08:00</text>
<text x="964" y="807" textLength="54" lengthAdjust="spacingAndGlyphs">13 Feb 00:00</text>
<text x="1028" y="807" textLength="54" lengthAdjust="spacingAndGlyphs">13 Feb 16:00</text>
<text x="1092" y="807" textLength="54" lengthAdjust="spacingAndGlyphs">14 Feb 08:00</text>
<text x="1156" y="807" textLength="54" lengthAdjust="spacingAndGlyphs">15 Feb 00:00</text>
<text x="1220" y="807" textLength="54" lengthAdjust="spacingAndGlyphs">15 Feb 16:00</text>
<text x="1284" y="807" textLength="54" lengthAdjust="spacingAndGlyphs">16 Feb 08:00</text>
</g>
</svg></body></html>
